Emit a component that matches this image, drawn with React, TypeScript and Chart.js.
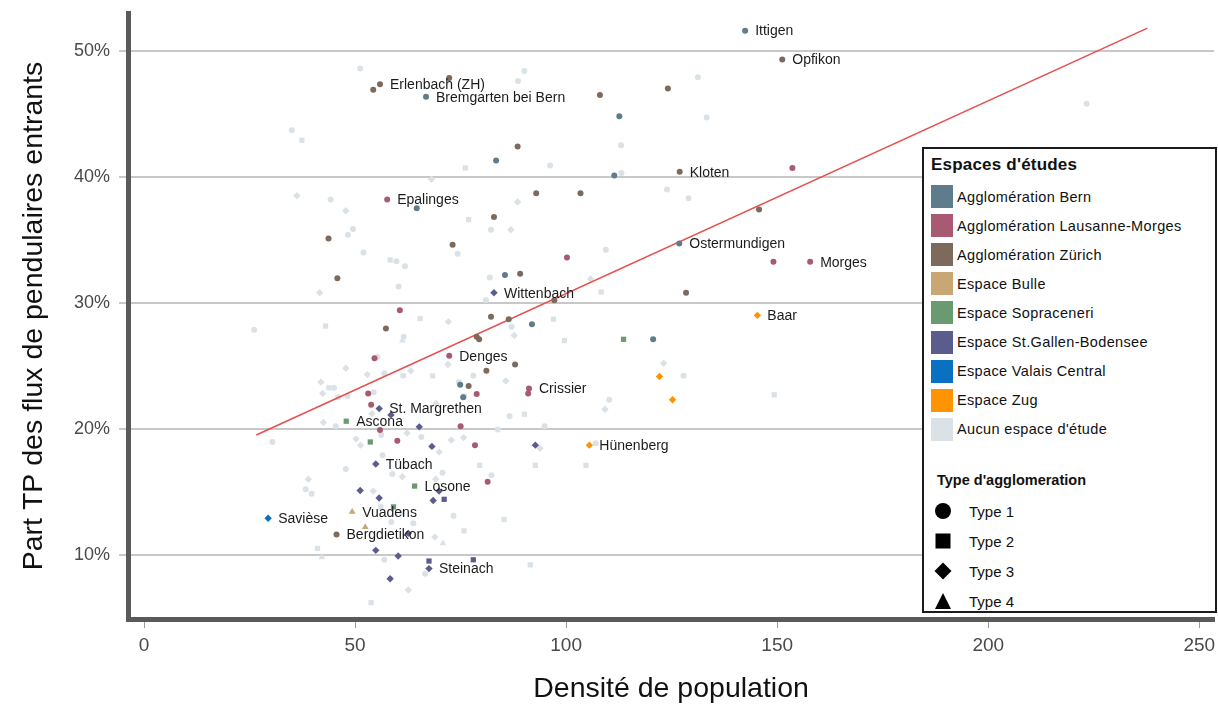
import React, { useEffect, useRef } from "react";
import { Chart, registerables } from "chart.js";
Chart.register(...registerables);

const FONT = "'Liberation Sans', Arial, Helvetica, sans-serif";

// ---------- legend / categories ----------
const regionNames = [
  "Agglomération Bern",
  "Agglomération Lausanne-Morges",
  "Agglomération Zürich",
  "Espace Bulle",
  "Espace Sopraceneri",
  "Espace St.Gallen-Bodensee",
  "Espace Valais Central",
  "Espace Zug",
  "Aucun espace d'étude",
];
const regionColors = [
  "#5F7C8D",
  "#A85A72",
  "#7D6A5B",
  "#C9A775",
  "#6A9A6F",
  "#5B5C8E",
  "#0A70C2",
  "#FF9400",
  "#DAE2E7",
];
const typeNames = ["Type 1", "Type 2", "Type 3", "Type 4"];

// ---------- axes ----------
const xTicks = [0, 50, 100, 150, 200, 250];
const yTicks = [10, 20, 30, 40, 50];

// ---------- data (x = densité, y = part TP en %) ; t = type (1 cercle, 2 carré, 3 losange, 4 triangle) ----------
const bernX = [142.4, 66.8, 112.6, 83.4, 111.4, 64.6, 126.8, 85.5, 91.9, 120.6, 74.9, 75.6];
const bernY = [51.6, 46.35, 44.8, 41.3, 40.1, 37.5, 34.7, 32.2, 28.3, 27.1, 23.5, 22.5];
const bernT = [1, 1, 1, 1, 1, 1, 1, 1, 1, 1, 1, 1];

const lausX = [153.6, 57.6, 157.8, 149.1, 100.2, 60.6, 72.3, 54.6, 91.2, 91.0, 78.8, 53.1, 53.8, 55.9, 60.0, 75.0, 78.4, 81.4];
const lausY = [40.7, 38.2, 33.25, 33.25, 33.6, 29.4, 25.8, 25.6, 23.2, 22.8, 22.75, 22.8, 21.9, 19.9, 19.05, 20.2, 18.7, 15.8];
const lausT = [1, 1, 1, 1, 1, 1, 1, 1, 1, 1, 1, 1, 1, 1, 1, 1, 1, 1];

const zurX = [151.2, 55.9, 54.3, 72.3, 108.0, 124.1, 88.5, 126.9, 92.9, 103.4, 82.9, 145.7, 43.7, 73.1, 45.8, 89.1, 82.2, 86.4, 57.3, 128.4, 97.2, 78.8, 79.4, 87.9, 81.1, 76.9, 45.6];
const zurY = [49.3, 47.35, 46.9, 47.85, 46.5, 47.0, 42.4, 40.4, 38.7, 38.7, 36.8, 37.4, 35.1, 34.6, 31.95, 32.3, 28.9, 28.7, 27.96, 30.8, 30.2, 27.3, 27.1, 25.1, 24.6, 23.4, 11.6];
const zurT = [1, 1, 1, 1, 1, 1, 1, 1, 1, 1, 1, 1, 1, 1, 1, 1, 1, 1, 1, 1, 1, 1, 1, 1, 1, 1, 1];

const bulleX = [49.3, 52.4];
const bulleY = [13.4, 12.2];
const bulleT = [4, 4];

const soprX = [47.9, 53.6, 64.1, 59.1, 113.6];
const soprY = [20.6, 18.95, 15.45, 13.8, 27.1];
const soprT = [2, 2, 2, 2, 2];

const sgX = [82.9, 55.7, 58.5, 65.2, 68.2, 92.7, 54.9, 51.2, 55.7, 69.9, 68.5, 71.1, 62.6, 54.9, 60.2, 67.5, 67.5, 78.0, 58.3];
const sgY = [30.8, 21.6, 21.1, 20.15, 18.6, 18.7, 17.2, 15.1, 14.5, 15.05, 14.3, 14.4, 11.7, 10.35, 9.9, 9.5, 8.9, 9.6, 8.1];
const sgT = [3, 3, 3, 3, 3, 3, 3, 3, 3, 3, 3, 2, 3, 3, 3, 2, 3, 2, 3];

const valaisX = [29.4];
const valaisY = [12.9];
const valaisT = [3];

const zugX = [145.3, 122.1, 125.2, 105.5];
const zugY = [29.0, 24.15, 22.3, 18.7];
const zugT = [3, 3, 3, 3];

// Aucun espace d'étude
const grayCircleX = [51.2, 35.0, 44.2, 49.5, 48.3, 90.1, 88.6, 131.2, 133.3, 113.0, 96.2, 113.1, 123.9, 129.0, 82.2, 223.3, 52.0, 59.8, 61.8, 74.3, 81.9, 60.3, 81.0, 26.1, 61.5, 55.3, 61.4, 45.0, 54.4, 48.2, 46.0, 45.4, 56.2, 30.4, 56.5, 47.8, 56.9, 74.6, 78.0, 86.6, 83.8, 65.7, 94.9, 58.8, 70.7, 82.3, 38.3, 39.7, 73.3, 56.9, 66.6, 109.4, 87.1, 127.8, 110.2, 107.0, 58.6, 63.8];
const grayCircleY = [48.6, 43.7, 38.2, 35.85, 35.4, 48.4, 47.6, 47.9, 44.7, 42.5, 40.9, 40.3, 39.0, 38.3, 35.8, 45.8, 34.0, 33.3, 32.9, 33.9, 32.0, 31.3, 30.2, 27.85, 27.3, 25.7, 24.2, 23.25, 22.9, 22.6, 22.5, 20.2, 19.5, 18.95, 17.9, 16.8, 24.4, 23.7, 24.2, 21.0, 19.95, 19.35, 20.2, 16.4, 16.5, 16.3, 15.2, 14.85, 13.1, 9.6, 8.5, 34.2, 28.1, 24.2, 22.3, 18.85, 12.6, 12.5];
const graySquareX = [37.4, 76.1, 76.9, 58.3, 65.4, 43.0, 43.8, 68.4, 108.3, 97.0, 99.6, 90.1, 149.3, 79.5, 92.7, 104.7, 56.1, 61.1, 85.3, 75.8, 41.1, 91.5, 53.8, 75.9];
const graySquareY = [42.9, 40.7, 36.6, 33.4, 28.75, 28.15, 23.25, 24.2, 30.85, 28.7, 27.0, 21.15, 22.7, 17.1, 17.1, 17.1, 13.8, 13.3, 12.8, 11.9, 10.5, 9.2, 6.2, 22.6];
const grayDiamondX = [36.2, 47.8, 68.1, 88.5, 86.9, 41.6, 72.1, 105.8, 87.7, 47.8, 52.9, 63.2, 41.9, 42.3, 54.0, 42.5, 62.3, 50.2, 51.3, 72.0, 85.7, 69.2, 72.8, 75.7, 69.9, 61.2, 69.1, 38.9, 54.3, 68.9, 62.6, 109.2, 123.1, 93.8];
const grayDiamondY = [38.5, 37.3, 39.8, 38.0, 35.8, 30.8, 28.5, 31.9, 27.4, 24.8, 24.3, 24.6, 23.7, 22.8, 21.2, 20.5, 19.65, 19.2, 18.7, 25.1, 23.8, 22.0, 19.1, 19.3, 18.15, 16.2, 16.0, 16.0, 15.05, 11.4, 7.2, 21.55, 25.2, 18.45];
const grayTriangleX = [61.2, 70.8, 42.1];
const grayTriangleY = [27.0, 10.9, 9.8];

// Regression line
const regX = [26.6, 237.7];
const regY = [19.5, 51.8];

// Point labels
const labelNames = ["Ittigen", "Opfikon", "Erlenbach (ZH)", "Bremgarten bei Bern", "Kloten", "Epalinges", "Ostermundigen", "Morges", "Wittenbach", "Baar", "Denges", "Crissier", "St. Margrethen", "Ascona", "Hünenberg", "Tübach", "Losone", "Vuadens", "Savièse", "Bergdietikon", "Steinach"];
const labelX = [142.4, 151.2, 55.9, 66.8, 126.9, 57.6, 126.8, 157.8, 82.9, 145.3, 72.3, 91.2, 55.7, 47.9, 105.5, 54.9, 64.1, 49.3, 29.4, 45.6, 67.5];
const labelY = [51.6, 49.3, 47.35, 46.35, 40.4, 38.2, 34.7, 33.25, 30.8, 29.0, 25.8, 23.2, 21.6, 20.6, 18.7, 17.2, 15.45, 13.4, 12.9, 11.6, 8.9];

const styleOf = (t: number) => (t === 1 ? "circle" : t === 2 ? "rect" : t === 3 ? "rectRot" : "triangle");
const radiusOf = (t: number) => (t === 1 ? 3 : t === 2 ? 3.7 : t === 3 ? 3.7 : 3.9);

function makeSet(label: string, xs: number[], ys: number[], ts: number[], color: string, order: number) {
  return {
    type: "scatter" as const,
    label,
    data: xs.map((x, i) => ({ x, y: ys[i] })),
    pointStyle: ts.map(styleOf),
    pointRadius: ts.map(radiusOf),
    pointHoverRadius: ts.map(radiusOf),
    backgroundColor: color,
    borderColor: color,
    borderWidth: 0,
    order,
  };
}

const overlayPlugin = {
  id: "overlay",
  afterDatasetsDraw(chart: any) {
    const { ctx, scales, chartArea } = chart;
    const xs = scales.x;
    const ys = scales.y;
    ctx.save();
    ctx.font = `14px ${FONT}`;
    ctx.fillStyle = "#1c1c1c";
    ctx.textBaseline = "middle";
    ctx.textAlign = "left";
    labelNames.forEach((n, i) => {
      ctx.fillText(n, xs.getPixelForValue(labelX[i]) + 10, ys.getPixelForValue(labelY[i]) + 1);
    });
    // axis titles
    ctx.fillStyle = "#111";
    ctx.font = `28.5px ${FONT}`;
    ctx.textAlign = "center";
    ctx.fillText("Densité de population", (chartArea.left + chartArea.right) / 2, 689);
    ctx.translate(34, (chartArea.top + chartArea.bottom) / 2);
    ctx.rotate(-Math.PI / 2);
    ctx.fillText("Part TP des flux de pendulaires entrants", 0, 0);
    ctx.restore();
  },
};

function Shape({ t }: { t: number }) {
  return (
    <svg width="18" height="18" viewBox="0 0 18 18" style={{ display: "block" }}>
      {t === 1 && <circle cx="9" cy="9" r="8" fill="#000" />}
      {t === 2 && <rect x="1.5" y="1.5" width="15" height="15" fill="#000" />}
      {t === 3 && <polygon points="9,0.5 17.5,9 9,17.5 0.5,9" fill="#000" />}
      {t === 4 && <polygon points="9,1 17,17 1,17" fill="#000" />}
    </svg>
  );
}

function Legend() {
  return (
    <div
      style={{
        position: "absolute",
        left: 922,
        top: 147,
        width: 291,
        height: 462,
        border: "2px solid #1b1b1b",
        background: "#fff",
        fontFamily: FONT,
        color: "#111",
      }}
    >
      <div style={{ position: "absolute", left: 7, top: 6, fontWeight: "bold", fontSize: 17, letterSpacing: 0.2 }}>
        Espaces d'études
      </div>
      {regionNames.map((n, i) => (
        <div key={n} style={{ position: "absolute", left: 7, top: 36 + i * 29.1, height: 23, display: "flex", alignItems: "center" }}>
          <div style={{ width: 22, height: 23, background: regionColors[i] }} />
          <div style={{ marginLeft: 4, fontSize: 14.5, letterSpacing: 0.35, whiteSpace: "nowrap" }}>{n}</div>
        </div>
      ))}
      <div style={{ position: "absolute", left: 13, top: 323, fontWeight: "bold", fontSize: 14.5 }}>
        Type d'agglomeration
      </div>
      {typeNames.map((n, i) => (
        <div key={n} style={{ position: "absolute", left: 10, top: 352 + i * 30, height: 20, display: "flex", alignItems: "center" }}>
          <Shape t={i + 1} />
          <div style={{ marginLeft: 17, fontSize: 15 }}>{n}</div>
        </div>
      ))}
    </div>
  );
}

export default function App() {
  const ref = useRef<HTMLCanvasElement | null>(null);
  useEffect(() => {
    if (!ref.current) return;
    const colored = [
      makeSet(regionNames[0], bernX, bernY, bernT, regionColors[0], 0),
      makeSet(regionNames[1], lausX, lausY, lausT, regionColors[1], 0),
      makeSet(regionNames[2], zurX, zurY, zurT, regionColors[2], 0),
      makeSet(regionNames[3], bulleX, bulleY, bulleT, regionColors[3], 0),
      makeSet(regionNames[4], soprX, soprY, soprT, regionColors[4], 0),
      makeSet(regionNames[5], sgX, sgY, sgT, regionColors[5], 0),
      makeSet(regionNames[6], valaisX, valaisY, valaisT, regionColors[6], 0),
      makeSet(regionNames[7], zugX, zugY, zugT, regionColors[7], 0),
    ];
    const gray = [
      makeSet("gc", grayCircleX, grayCircleY, grayCircleX.map(() => 1), regionColors[8], 3),
      makeSet("gs", graySquareX, graySquareY, graySquareX.map(() => 2), regionColors[8], 3),
      makeSet("gd", grayDiamondX, grayDiamondY, grayDiamondX.map(() => 3), regionColors[8], 3),
      makeSet("gt", grayTriangleX, grayTriangleY, grayTriangleX.map(() => 4), regionColors[8], 3),
    ];
    const line = {
      type: "line" as const,
      label: "reg",
      data: regX.map((x, i) => ({ x, y: regY[i] })),
      borderColor: "#E5514E",
      borderWidth: 1.6,
      pointRadius: 0,
      fill: false,
      order: 1,
    };
    const chart = new Chart(ref.current, {
      type: "scatter",
      data: { datasets: [...colored, line, ...gray] as any },
      options: {
        animation: false,
        responsive: false,
        maintainAspectRatio: false,
        layout: { padding: { left: 0, right: 3, top: 13, bottom: 0 } },
        plugins: { legend: { display: false }, tooltip: { enabled: false } },
        scales: {
          x: {
            type: "linear",
            min: -3.8,
            max: 253.5,
            afterFit: (s: any) => {
              s.height = 85;
              s.paddingLeft = 0;
              s.paddingRight = 0;
            },
            afterBuildTicks: (s: any) => {
              s.ticks = xTicks.map((v) => ({ value: v }));
            },
            grid: { drawOnChartArea: false, drawTicks: true, tickLength: 9, color: "#9a9a9a", lineWidth: 1 },
            border: { display: true, color: "#5a5a5a", width: 5 },
            ticks: { padding: 6, color: "#4a4a4a", font: { family: FONT, size: 19 }, maxRotation: 0 },
          },
          y: {
            type: "linear",
            min: 4.9,
            max: 53.0,
            afterFit: (s: any) => {
              s.width = 128;
              s.paddingTop = 0;
              s.paddingBottom = 0;
            },
            afterBuildTicks: (s: any) => {
              s.ticks = yTicks.map((v) => ({ value: v }));
            },
            grid: { drawOnChartArea: true, drawTicks: true, tickLength: 9, color: "#c8c8c8", lineWidth: 2 },
            border: { display: true, color: "#5a5a5a", width: 5 },
            ticks: { padding: 9, color: "#4a4a4a", font: { family: FONT, size: 18 }, callback: (v: any) => v + "%" },
          },
        },
      },
      plugins: [overlayPlugin],
    });
    return () => chart.destroy();
  }, []);
  return (
    <div style={{ position: "absolute", left: 0, top: 0, width: 1218, height: 704, background: "#fff", fontFamily: FONT }}>
      <canvas ref={ref} width={1218} height={704} style={{ display: "block", width: 1218, height: 704 }} />
      <Legend />
    </div>
  );
}
